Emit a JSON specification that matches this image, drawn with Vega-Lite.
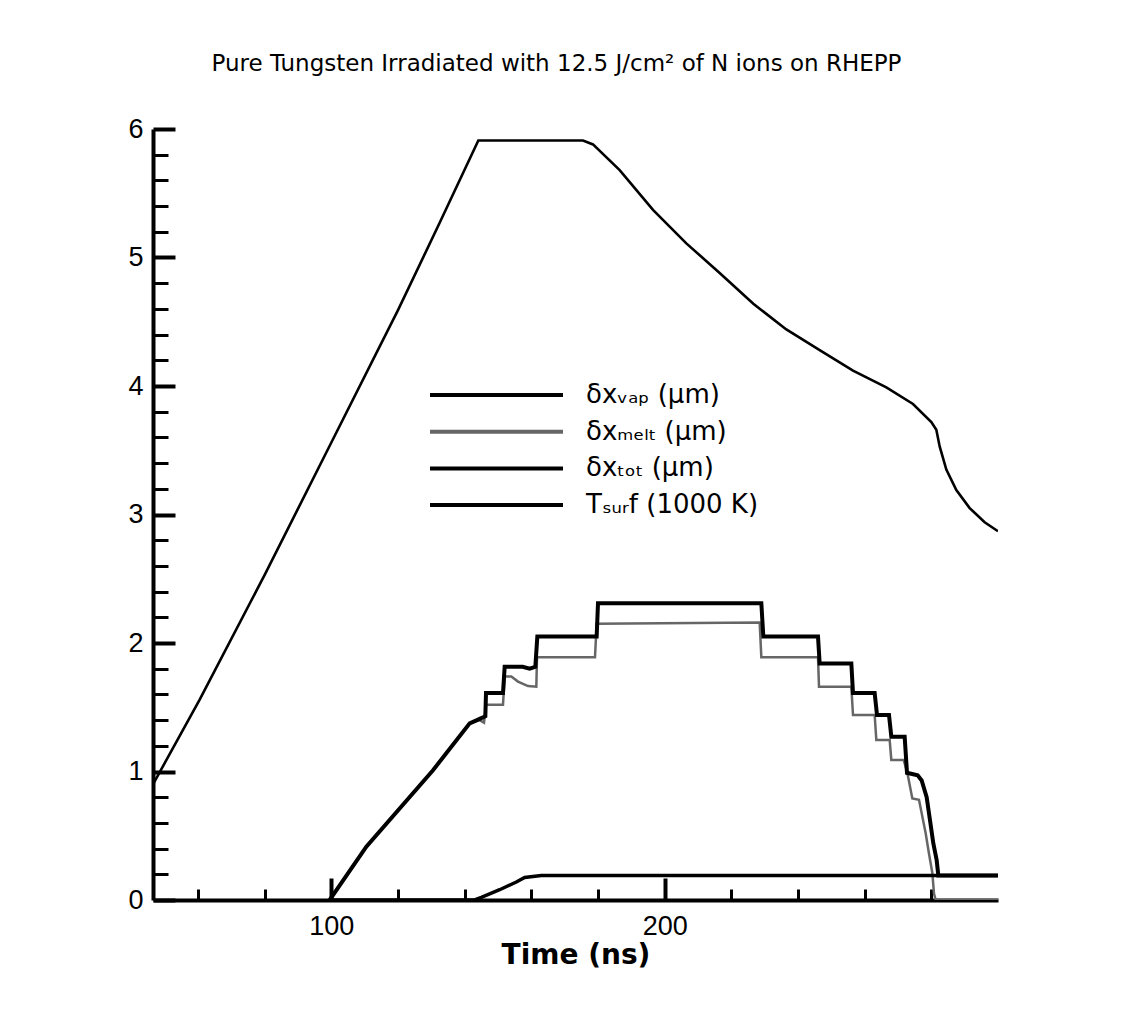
{
  "$schema": "https://vega.github.io/schema/vega-lite/v6.json",
  "width": 845,
  "height": 771,
  "autosize": {"type": "none"},
  "padding": {"left": 153, "top": 129, "right": 128, "bottom": 110},
  "background": "white",
  "title": {
    "text": "Pure Tungsten Irradiated with 12.5 J/cm² of N ions on RHEPP",
    "font": "DejaVu Sans", "fontSize": 23, "fontWeight": "normal", "color": "black",
    "anchor": "middle", "frame": "group", "baseline": "alphabetic", "offset": 21, "dx": -19
  },
  "data": {"values": [
    {"s": "Tₛᵤᵣf (1000 K)", "t": 46.5, "v": 0.9},
    {"s": "Tₛᵤᵣf (1000 K)", "t": 60.5, "v": 1.56},
    {"s": "Tₛᵤᵣf (1000 K)", "t": 80, "v": 2.53},
    {"s": "Tₛᵤᵣf (1000 K)", "t": 100, "v": 3.56},
    {"s": "Tₛᵤᵣf (1000 K)", "t": 120, "v": 4.59},
    {"s": "Tₛᵤᵣf (1000 K)", "t": 132.5, "v": 5.27},
    {"s": "Tₛᵤᵣf (1000 K)", "t": 144.1, "v": 5.91},
    {"s": "Tₛᵤᵣf (1000 K)", "t": 175.5, "v": 5.91},
    {"s": "Tₛᵤᵣf (1000 K)", "t": 178.5, "v": 5.88},
    {"s": "Tₛᵤᵣf (1000 K)", "t": 186.5, "v": 5.68},
    {"s": "Tₛᵤᵣf (1000 K)", "t": 196.5, "v": 5.37},
    {"s": "Tₛᵤᵣf (1000 K)", "t": 206.5, "v": 5.11},
    {"s": "Tₛᵤᵣf (1000 K)", "t": 216.5, "v": 4.88},
    {"s": "Tₛᵤᵣf (1000 K)", "t": 226.6, "v": 4.64},
    {"s": "Tₛᵤᵣf (1000 K)", "t": 236.5, "v": 4.44},
    {"s": "Tₛᵤᵣf (1000 K)", "t": 246.5, "v": 4.28},
    {"s": "Tₛᵤᵣf (1000 K)", "t": 256.5, "v": 4.12},
    {"s": "Tₛᵤᵣf (1000 K)", "t": 266.5, "v": 3.99},
    {"s": "Tₛᵤᵣf (1000 K)", "t": 274.5, "v": 3.86},
    {"s": "Tₛᵤᵣf (1000 K)", "t": 280, "v": 3.72},
    {"s": "Tₛᵤᵣf (1000 K)", "t": 281.5, "v": 3.66},
    {"s": "Tₛᵤᵣf (1000 K)", "t": 282.5, "v": 3.53},
    {"s": "Tₛᵤᵣf (1000 K)", "t": 284.5, "v": 3.35},
    {"s": "Tₛᵤᵣf (1000 K)", "t": 287.5, "v": 3.19},
    {"s": "Tₛᵤᵣf (1000 K)", "t": 291.5, "v": 3.05},
    {"s": "Tₛᵤᵣf (1000 K)", "t": 296, "v": 2.94},
    {"s": "Tₛᵤᵣf (1000 K)", "t": 300, "v": 2.87},

    {"s": "δxₘₑₗₜ (μm)", "t": 99.5, "v": 0},
    {"s": "δxₘₑₗₜ (μm)", "t": 110.5, "v": 0.415},
    {"s": "δxₘₑₗₜ (μm)", "t": 130.5, "v": 1.01},
    {"s": "δxₘₑₗₜ (μm)", "t": 141.5, "v": 1.375},
    {"s": "δxₘₑₗₜ (μm)", "t": 144.5, "v": 1.4},
    {"s": "δxₘₑₗₜ (μm)", "t": 145.8, "v": 1.38},
    {"s": "δxₘₑₗₜ (μm)", "t": 146.4, "v": 1.52},
    {"s": "δxₘₑₗₜ (μm)", "t": 151.5, "v": 1.52},
    {"s": "δxₘₑₗₜ (μm)", "t": 152.0, "v": 1.74},
    {"s": "δxₘₑₗₜ (μm)", "t": 154.0, "v": 1.74},
    {"s": "δxₘₑₗₜ (μm)", "t": 156.0, "v": 1.7},
    {"s": "δxₘₑₗₜ (μm)", "t": 159.0, "v": 1.665},
    {"s": "δxₘₑₗₜ (μm)", "t": 161.5, "v": 1.66},
    {"s": "δxₘₑₗₜ (μm)", "t": 161.7, "v": 1.89},
    {"s": "δxₘₑₗₜ (μm)", "t": 179.1, "v": 1.89},
    {"s": "δxₘₑₗₜ (μm)", "t": 179.6, "v": 2.15},
    {"s": "δxₘₑₗₜ (μm)", "t": 228.5, "v": 2.16},
    {"s": "δxₘₑₗₜ (μm)", "t": 229.0, "v": 1.89},
    {"s": "δxₘₑₗₜ (μm)", "t": 246.0, "v": 1.89},
    {"s": "δxₘₑₗₜ (μm)", "t": 246.3, "v": 1.66},
    {"s": "δxₘₑₗₜ (μm)", "t": 256.0, "v": 1.66},
    {"s": "δxₘₑₗₜ (μm)", "t": 256.5, "v": 1.44},
    {"s": "δxₘₑₗₜ (μm)", "t": 263.0, "v": 1.44},
    {"s": "δxₘₑₗₜ (μm)", "t": 263.5, "v": 1.245},
    {"s": "δxₘₑₗₜ (μm)", "t": 267.5, "v": 1.245},
    {"s": "δxₘₑₗₜ (μm)", "t": 268.0, "v": 1.09},
    {"s": "δxₘₑₗₜ (μm)", "t": 271.7, "v": 1.09},
    {"s": "δxₘₑₗₜ (μm)", "t": 272.8, "v": 0.99},
    {"s": "δxₘₑₗₜ (μm)", "t": 274.3, "v": 0.79},
    {"s": "δxₘₑₗₜ (μm)", "t": 276.3, "v": 0.78},
    {"s": "δxₘₑₗₜ (μm)", "t": 278.3, "v": 0.52},
    {"s": "δxₘₑₗₜ (μm)", "t": 279.3, "v": 0.36},
    {"s": "δxₘₑₗₜ (μm)", "t": 280.3, "v": 0.21},
    {"s": "δxₘₑₗₜ (μm)", "t": 280.8, "v": 0.05},
    {"s": "δxₘₑₗₜ (μm)", "t": 281.3, "v": 0},
    {"s": "δxₘₑₗₜ (μm)", "t": 300, "v": 0},

    {"s": "δxᵥₐₚ (μm)", "t": 99.5, "v": 0},
    {"s": "δxᵥₐₚ (μm)", "t": 143, "v": 0},
    {"s": "δxᵥₐₚ (μm)", "t": 145, "v": 0.02},
    {"s": "δxᵥₐₚ (μm)", "t": 150.5, "v": 0.08},
    {"s": "δxᵥₐₚ (μm)", "t": 155.5, "v": 0.14},
    {"s": "δxᵥₐₚ (μm)", "t": 158, "v": 0.175},
    {"s": "δxᵥₐₚ (μm)", "t": 163, "v": 0.19},
    {"s": "δxᵥₐₚ (μm)", "t": 300, "v": 0.19},

    {"s": "δxₜₒₜ (μm)", "t": 99.5, "v": 0},
    {"s": "δxₜₒₜ (μm)", "t": 110.5, "v": 0.415},
    {"s": "δxₜₒₜ (μm)", "t": 130.5, "v": 1.01},
    {"s": "δxₜₒₜ (μm)", "t": 141.5, "v": 1.375},
    {"s": "δxₜₒₜ (μm)", "t": 144.5, "v": 1.41},
    {"s": "δxₜₒₜ (μm)", "t": 146.2, "v": 1.43},
    {"s": "δxₜₒₜ (μm)", "t": 146.4, "v": 1.61},
    {"s": "δxₜₒₜ (μm)", "t": 151.5, "v": 1.61},
    {"s": "δxₜₒₜ (μm)", "t": 152.0, "v": 1.815},
    {"s": "δxₜₒₜ (μm)", "t": 157.4, "v": 1.815},
    {"s": "δxₜₒₜ (μm)", "t": 159.5, "v": 1.8},
    {"s": "δxₜₒₜ (μm)", "t": 161.2, "v": 1.815},
    {"s": "δxₜₒₜ (μm)", "t": 161.8, "v": 2.05},
    {"s": "δxₜₒₜ (μm)", "t": 179.6, "v": 2.05},
    {"s": "δxₜₒₜ (μm)", "t": 180.0, "v": 2.31},
    {"s": "δxₜₒₜ (μm)", "t": 229.0, "v": 2.31},
    {"s": "δxₜₒₜ (μm)", "t": 229.6, "v": 2.05},
    {"s": "δxₜₒₜ (μm)", "t": 246.0, "v": 2.05},
    {"s": "δxₜₒₜ (μm)", "t": 246.5, "v": 1.84},
    {"s": "δxₜₒₜ (μm)", "t": 256.0, "v": 1.84},
    {"s": "δxₜₒₜ (μm)", "t": 256.5, "v": 1.61},
    {"s": "δxₜₒₜ (μm)", "t": 263.0, "v": 1.61},
    {"s": "δxₜₒₜ (μm)", "t": 263.7, "v": 1.44},
    {"s": "δxₜₒₜ (μm)", "t": 267.3, "v": 1.44},
    {"s": "δxₜₒₜ (μm)", "t": 268.0, "v": 1.27},
    {"s": "δxₜₒₜ (μm)", "t": 272.0, "v": 1.27},
    {"s": "δxₜₒₜ (μm)", "t": 272.7, "v": 0.99},
    {"s": "δxₜₒₜ (μm)", "t": 275.9, "v": 0.97},
    {"s": "δxₜₒₜ (μm)", "t": 277.1, "v": 0.93},
    {"s": "δxₜₒₜ (μm)", "t": 278.6, "v": 0.8},
    {"s": "δxₜₒₜ (μm)", "t": 279.6, "v": 0.62},
    {"s": "δxₜₒₜ (μm)", "t": 280.6, "v": 0.44},
    {"s": "δxₜₒₜ (μm)", "t": 281.6, "v": 0.31},
    {"s": "δxₜₒₜ (μm)", "t": 282.1, "v": 0.19},
    {"s": "δxₜₒₜ (μm)", "t": 300, "v": 0.19}
  ]},
  "layer": [
    {
      "transform": [{"filter": {"field": "s", "equal": "δxₘₑₗₜ (μm)"}}],
      "mark": {"type": "line", "strokeWidth": 2.5, "clip": true},
      "encoding": {
        "x": {"field": "t", "type": "quantitative", "scale": {"domain": [46.5, 300], "nice": false, "zero": false},
              "axis": {"orient": "bottom", "values": [60, 80, 120, 140, 160, 180, 220, 240, 260, 280], "tickSize": -11, "tickWidth": 3, "tickColor": "black", "labels": false, "domain": false, "title": null, "grid": false}},
        "y": {"field": "v", "type": "quantitative", "scale": {"domain": [0, 6], "nice": false},
              "axis": {"orient": "left", "values": [0.2, 0.4, 0.6, 0.8, 1.2, 1.4, 1.6, 1.8, 2.2, 2.4, 2.6, 2.8, 3.2, 3.4, 3.6, 3.8, 4.2, 4.4, 4.6, 4.8, 5.2, 5.4, 5.6, 5.8], "tickSize": -15, "tickWidth": 3, "tickColor": "black", "labels": false, "domain": false, "title": null, "grid": false}},
        "color": {"field": "s", "type": "nominal", "title": null,
                  "scale": {"domain": ["δxᵥₐₚ (μm)", "δxₘₑₗₜ (μm)", "δxₜₒₜ (μm)", "Tₛᵤᵣf (1000 K)"], "range": ["#000000", "#666666", "#000000", "#000000"]},
                  "legend": {"orient": "none", "legendX": 275, "legendY": 253}}
      }
    },
    {
      "transform": [{"filter": {"field": "s", "equal": "Tₛᵤᵣf (1000 K)"}}],
      "mark": {"type": "line", "strokeWidth": 2.6, "clip": true},
      "encoding": {
        "x": {"field": "t", "type": "quantitative", "scale": {"domain": [46.5, 300], "nice": false, "zero": false},
              "axis": {"orient": "bottom", "values": [100, 200], "format": "d", "tickSize": -22, "tickWidth": 4, "tickColor": "black", "domainColor": "black", "domainWidth": 4, "labelFont": "Liberation Sans", "labelFontSize": 27, "labelColor": "black", "labelPadding": 35, "labelFlush": false, "title": "Time (ns)", "titleFont": "DejaVu Sans", "titleFontWeight": "bold", "titleFontSize": 28, "titleColor": "black", "titlePadding": 2, "grid": false}},
        "y": {"field": "v", "type": "quantitative", "scale": {"domain": [0, 6], "nice": false},
              "axis": {"orient": "left", "values": [0, 1, 2, 3, 4, 5, 6], "format": "d", "tickSize": -22, "tickWidth": 4, "tickColor": "black", "domainColor": "black", "domainWidth": 4, "labelFont": "Liberation Sans", "labelFontSize": 27, "labelColor": "black", "labelPadding": 32, "labelFlush": false, "title": null, "grid": false}},
        "color": {"field": "s", "type": "nominal", "title": null,
                  "scale": {"domain": ["δxᵥₐₚ (μm)", "δxₘₑₗₜ (μm)", "δxₜₒₜ (μm)", "Tₛᵤᵣf (1000 K)"], "range": ["#000000", "#666666", "#000000", "#000000"]},
                  "legend": {"orient": "none", "legendX": 275, "legendY": 253}}
      }
    },
    {
      "transform": [{"filter": {"field": "s", "equal": "δxᵥₐₚ (μm)"}}],
      "mark": {"type": "line", "strokeWidth": 3.5, "clip": true},
      "encoding": {
        "x": {"field": "t", "type": "quantitative", "scale": {"domain": [46.5, 300], "nice": false, "zero": false}, "axis": null},
        "y": {"field": "v", "type": "quantitative", "scale": {"domain": [0, 6], "nice": false}, "axis": null},
        "color": {"field": "s", "type": "nominal", "title": null,
                  "scale": {"domain": ["δxᵥₐₚ (μm)", "δxₘₑₗₜ (μm)", "δxₜₒₜ (μm)", "Tₛᵤᵣf (1000 K)"], "range": ["#000000", "#666666", "#000000", "#000000"]},
                  "legend": {"orient": "none", "legendX": 275, "legendY": 253}}
      }
    },
    {
      "transform": [{"filter": {"field": "s", "equal": "δxₜₒₜ (μm)"}}],
      "mark": {"type": "line", "strokeWidth": 4, "clip": true},
      "encoding": {
        "x": {"field": "t", "type": "quantitative", "scale": {"domain": [46.5, 300], "nice": false, "zero": false}, "axis": null},
        "y": {"field": "v", "type": "quantitative", "scale": {"domain": [0, 6], "nice": false}, "axis": null},
        "color": {"field": "s", "type": "nominal", "title": null,
                  "scale": {"domain": ["δxᵥₐₚ (μm)", "δxₘₑₗₜ (μm)", "δxₜₒₜ (μm)", "Tₛᵤᵣf (1000 K)"], "range": ["#000000", "#666666", "#000000", "#000000"]},
                  "legend": {"orient": "none", "legendX": 275, "legendY": 253}}
      }
    }
  ],
  "resolve": {"axis": {"x": "independent", "y": "independent"}},
  "config": {
    "view": {"stroke": null},
    "legend": {
      "symbolType": "stroke", "symbolSize": 17689, "symbolStrokeWidth": 4,
      "clipHeight": 26, "rowPadding": 10.7, "labelOffset": 21,
      "labelFont": "DejaVu Sans", "labelFontSize": 26, "labelColor": "black",
      "labelLimit": 400, "padding": 0
    }
  }
}
